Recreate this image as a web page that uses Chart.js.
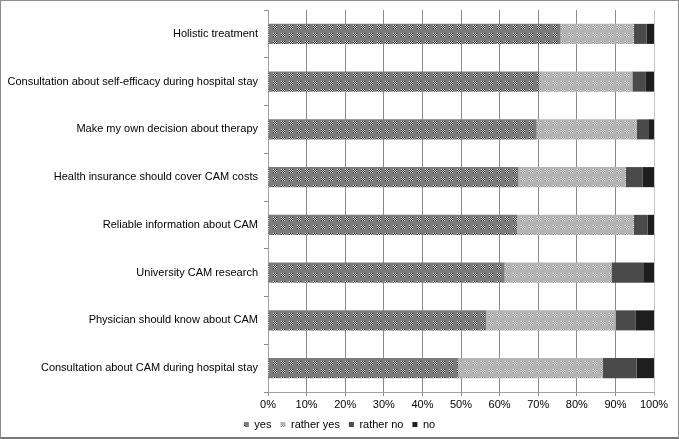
<!DOCTYPE html>
<html>
<head>
<meta charset="utf-8">
<script src="https://cdn.jsdelivr.net/npm/chart.js@4"></script>
<style>
  html, body { margin: 0; padding: 0; background: #fff; }
  #wrap { width: 679px; height: 439px; box-sizing: border-box; border: 1px solid #8c8c8c; border-bottom: 2px solid #777; }
  #chart { display: block; }
</style>
</head>
<body>
<div id="wrap"><canvas id="chart" width="677" height="436"></canvas></div>
<script>
// categories, top to bottom
const categories = [
    'Holistic treatment',
    'Consultation about self-efficacy during hospital stay',
    'Make my own decision about therapy',
    'Health insurance should cover CAM costs',
    'Reliable information about CAM',
    'University CAM research',
    'Physician should know about CAM',
    'Consultation about CAM during hospital stay'
];
const seriesNames = ['yes', 'rather yes', 'rather no', 'no'];

// percentages
const yesValues       = [75.8, 70.3, 69.6, 64.9, 64.5, 61.3, 56.5, 49.3];
const ratherYesValues = [19.0, 24.1, 25.9, 27.8, 30.3, 27.7, 33.6, 37.4];
const ratherNoValues  = [3.3, 3.5, 3.0, 4.3, 3.5, 8.2, 5.2, 8.8];
const noValues        = [1.9, 2.1, 1.5, 3.0, 1.7, 2.8, 4.7, 4.5];

const xTicks = [0, 10, 20, 30, 40, 50, 60, 70, 80, 90, 100];

// small dither tile, like the old office fill patterns
function makePattern(base, dark, light) {
    const c = document.createElement('canvas');
    c.width = 8; c.height = 8;
    const g = c.getContext('2d');
    g.fillStyle = base;
    g.fillRect(0, 0, 8, 8);
    for (let y = 0; y < 4; y++) {
        for (let x = 0; x < 4; x++) {
            g.fillStyle = (x + y) % 2 ? dark : light;
            g.fillRect(x, y, 1, 1);
        }
    }
    return g.createPattern(c, 'repeat');
}

const fills = [
    makePattern('#7c7c7c', '#111111', '#f2f2f2'),
    makePattern('#b4b4b4', '#7a7a7a', '#f4f4f4'),
    '#4a4a4a',
    '#1e1e1e'
];

const valueLists = [yesValues, ratherYesValues, ratherNoValues, noValues];

const datasets = seriesNames.map((name, i) => ({
    label: name,
    data: valueLists[i],
    backgroundColor: fills[i],
    borderWidth: 0,
    barPercentage: 0.42,
    categoryPercentage: 1.0
}));

Chart.defaults.font.family = '"Liberation Sans", Arial, Helvetica, sans-serif';
Chart.defaults.font.size = 11;
Chart.defaults.color = '#000';

new Chart(document.getElementById('chart'), {
    type: 'bar',
    data: { labels: categories, datasets: datasets },
    options: {
        indexAxis: 'y',
        responsive: false,
        animation: false,
        layout: { padding: { top: 9, right: 0, left: 0, bottom: -3 } },
        plugins: {
            tooltip: { enabled: false },
            legend: {
                position: 'bottom',
                labels: {
                    boxWidth: 5,
                    boxHeight: 5,
                    padding: 9,
                    font: { size: 11 }
                }
            }
        },
        scales: {
            x: {
                stacked: true,
                min: 0,
                max: 100,
                afterBuildTicks: (scale) => { scale.ticks = xTicks.map(v => ({ value: v })); },
                ticks: {
                    callback: (v) => v + '%',
                    padding: 2,
                    maxRotation: 0
                },
                grid: {
                    color: (ctx) => (ctx.tick && ctx.tick.value === 100) ? '#c4c4c4' : '#8a8a8a',
                    lineWidth: 1,
                    tickLength: 4
                },
                border: { color: '#a0a0a0' },
                afterFit: (scale) => { scale.height = 18; scale.paddingRight = 24; }
            },
            y: {
                stacked: true,
                ticks: { padding: 6 },
                grid: {
                    drawOnChartArea: false,
                    tickLength: 4,
                    color: '#8a8a8a'
                },
                border: { color: '#a0a0a0' },
                afterFit: (scale) => { scale.width = 267; scale.paddingTop = 0; }
            }
        }
    }
});
</script>
</body>
</html>
